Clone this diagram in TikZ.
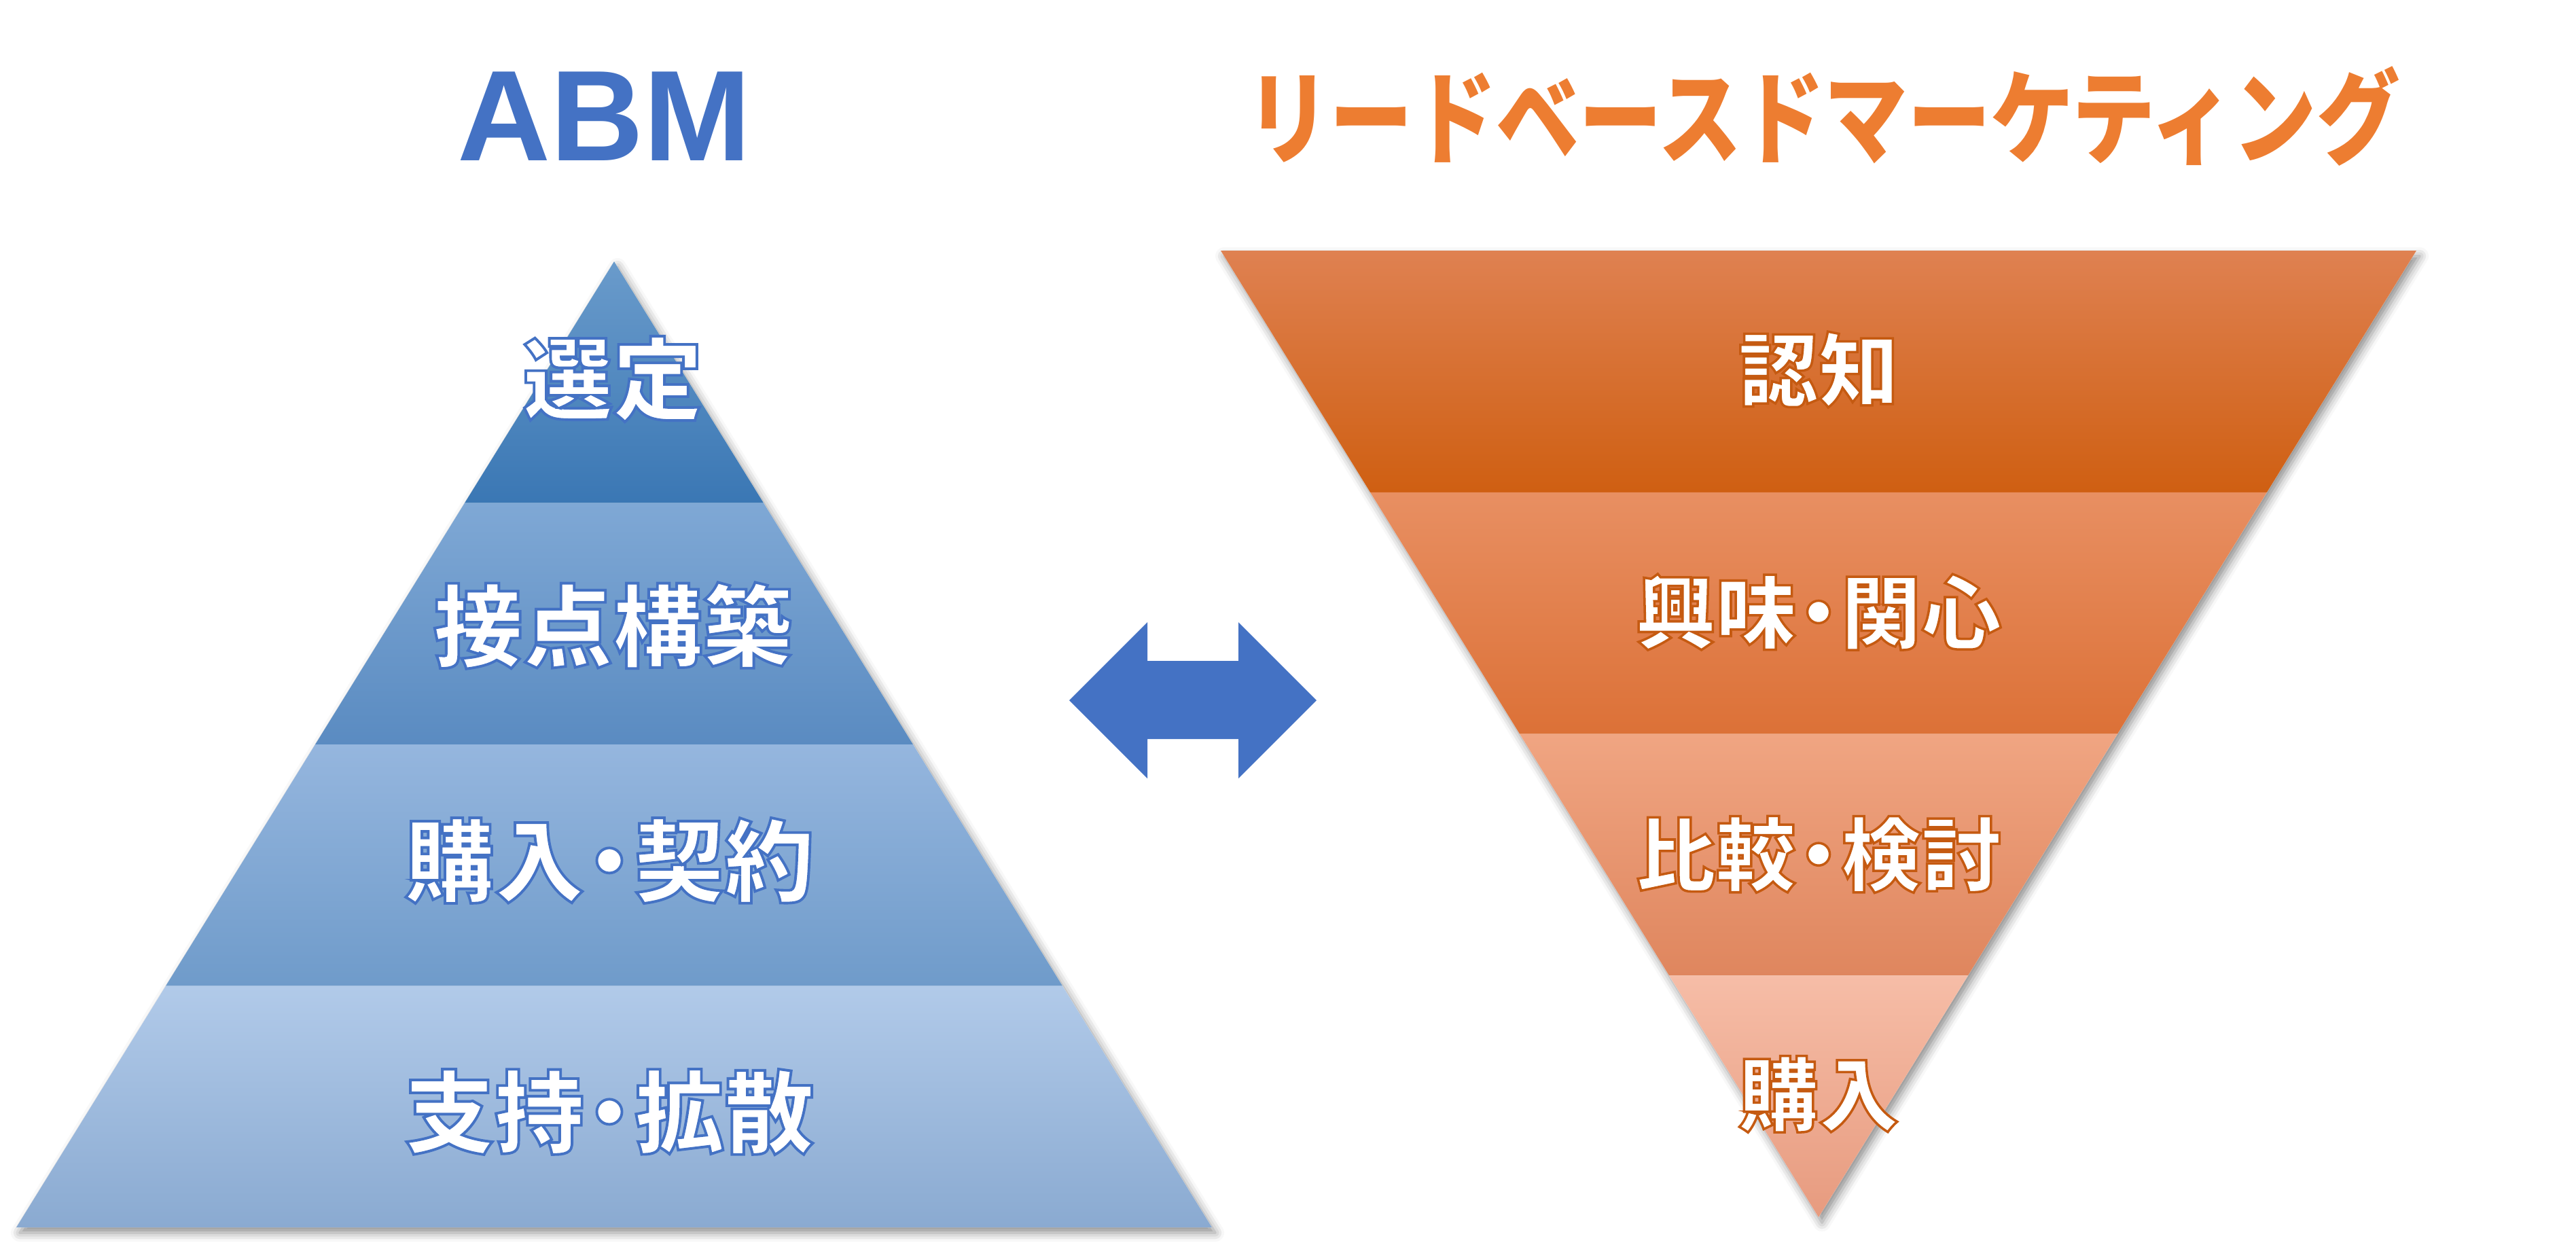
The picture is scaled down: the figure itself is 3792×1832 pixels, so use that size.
\documentclass[tikz,border=0pt]{standalone}
\usepackage{fontspec}
\usetikzlibrary{shadows.blur}
\newfontfamily\jp{Noto Sans CJK JP}
\newfontfamily\lat{Liberation Sans}
\definecolor{abmblue}{HTML}{4472C4}
\definecolor{ttlor}{HTML}{ED7D31}
\definecolor{ordark}{HTML}{C55A11}
\definecolor{pAt}{HTML}{6A9BCB}\definecolor{pAb}{HTML}{3A77B4}
\definecolor{pBt}{HTML}{7FA8D5}\definecolor{pBb}{HTML}{5A8BC1}
\definecolor{pCt}{HTML}{95B6DE}\definecolor{pCb}{HTML}{6F9BCA}
\definecolor{pDt}{HTML}{B1CAE9}\definecolor{pDb}{HTML}{8AAAD1}
\definecolor{fAt}{HTML}{DF8151}\definecolor{fAb}{HTML}{CF5F12}
\definecolor{fBt}{HTML}{E88F62}\definecolor{fBb}{HTML}{DC7137}
\definecolor{fCt}{HTML}{F0A582}\definecolor{fCb}{HTML}{DF865E}
\definecolor{fDt}{HTML}{F6BDA7}\definecolor{fDb}{HTML}{E79B7F}
\newcommand\mdot{\kern-0.22em・\kern-0.22em}
% outlined text: fill + stroke render mode
\newcommand\blueoutl[1]{\special{pdf:literal direct 2 Tr 1.1 w 0.267 0.447 0.769 RG}#1\special{pdf:literal direct 0 Tr}}
\newcommand\oroutl[1]{\special{pdf:literal direct 2 Tr 1.0 w 0.773 0.353 0.067 RG}#1\special{pdf:literal direct 0 Tr}}
\tikzset{
  trishadow/.style={fill=white, blur shadow={shadow xshift=0.5mm, shadow yshift=-0.8mm, shadow blur radius=1.3mm, shadow opacity=45}},
  pyrlabel/.style={inner sep=0pt, text=white, font=\fontsize{37.6pt}{40pt}\selectfont\jp\bfseries},
  funlabel/.style={inner sep=0pt, text=white, font=\fontsize{33.6pt}{36pt}\selectfont\jp\bfseries},
}
\begin{document}
\begin{tikzpicture}[x=0.01cm, y=-0.01cm]
\useasboundingbox (0,0) rectangle (3792,1832);
% titles
\node[inner sep=0pt, text=abmblue, font=\fontsize{54pt}{60pt}\selectfont\lat\bfseries] (abm) at (890,171) {ABM};
\node[inner sep=0pt, text=ttlor, font=\fontsize{42.7pt}{48pt}\selectfont\jp\bfseries] (lbm) at (2684,171) {\scalebox{0.815}[1]{リードベースドマーケティング}};
% pyramid
\path[trishadow] (904,385) -- (1784,1807) -- (24,1807) -- cycle;
\shade[top color=pAt, bottom color=pAb] (904,385) -- (1124,740.5) -- (684,740.5) -- cycle;
\shade[top color=pBt, bottom color=pBb] (684,740.5) -- (1124,740.5) -- (1344,1096) -- (464,1096) -- cycle;
\shade[top color=pCt, bottom color=pCb] (464,1096) -- (1344,1096) -- (1564,1451.5) -- (244,1451.5) -- cycle;
\shade[top color=pDt, bottom color=pDb] (244,1451.5) -- (1564,1451.5) -- (1784,1807) -- (24,1807) -- cycle;
% funnel
\path[trishadow] (1797,369) -- (3557,369) -- (2677,1792) -- cycle;
\shade[top color=fAt, bottom color=fAb] (1797,369) -- (3557,369) -- (3337,724.75) -- (2017,724.75) -- cycle;
\shade[top color=fBt, bottom color=fBb] (2017,724.75) -- (3337,724.75) -- (3117,1080.5) -- (2237,1080.5) -- cycle;
\shade[top color=fCt, bottom color=fCb] (2237,1080.5) -- (3117,1080.5) -- (2897,1436.25) -- (2457,1436.25) -- cycle;
\shade[top color=fDt, bottom color=fDb] (2457,1436.25) -- (2897,1436.25) -- (2677,1792) -- cycle;
% labels
\node[pyrlabel] (t1) at (902,558) {\blueoutl{選定}};
\node[pyrlabel] (t2) at (902,921) {\blueoutl{接点構築}};
\node[pyrlabel] (t3) at (897,1267) {\blueoutl{購入\mdot 契約}};
\node[pyrlabel] (t4) at (897,1637) {\blueoutl{支持\mdot 拡散}};
\node[funlabel] (f1) at (2677,544) {\oroutl{認知}};
\node[funlabel] (f2) at (2677,901) {\oroutl{興味\mdot 関心}};
\node[funlabel] (f3) at (2677,1258) {\oroutl{比較\mdot 検討}};
\node[funlabel] (f4) at (2677,1611) {\oroutl{購入}};
% double arrow
\coordinate (al) at (1574,1031);
\coordinate (ar) at (1938,1031);
\fill[abmblue] (al) -- (1689,916) -- (1689,973) -- (1823,973) -- (1823,916) -- (ar)
  -- (1823,1146) -- (1823,1088) -- (1689,1088) -- (1689,1146) -- cycle;
\end{tikzpicture}
\end{document}
